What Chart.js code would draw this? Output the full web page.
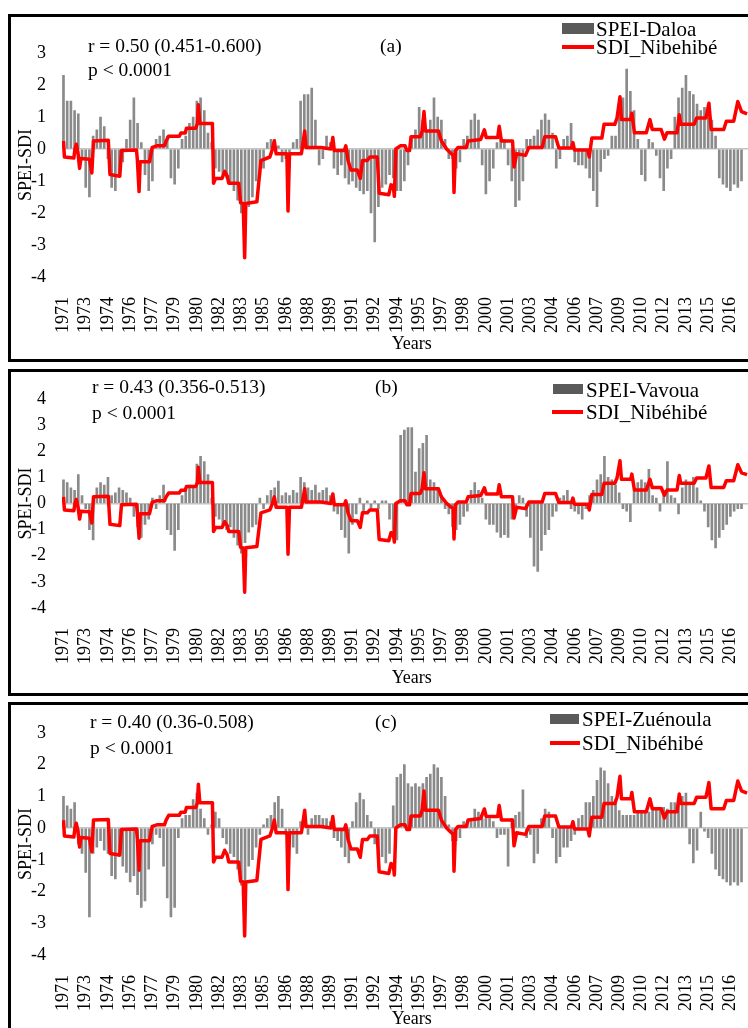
<!DOCTYPE html>
<html><head><meta charset="utf-8">
<script src="https://cdn.jsdelivr.net/npm/chart.js@4.4.1/dist/chart.umd.min.js"></script>
<style>
html,body{margin:0;padding:0;background:#fff;}
body{width:748px;height:1028px;overflow:hidden;position:relative;font-family:"Liberation Serif","Times New Roman",serif;}
.panel{position:absolute;left:8px;width:820px;border:3px solid #000;box-sizing:border-box;}
canvas{position:absolute;left:12px;}
.t{position:absolute;white-space:nowrap;color:#000;line-height:1;transform:translateY(-50%);z-index:5;}
.ann{font-size:19.5px;}
.leg{font-size:21px;}
.box{position:absolute;background:#5a5a5a;z-index:5;}
.red{position:absolute;background:#ff0000;height:4px;z-index:5;}
</style>
</head><body>
<div class="panel" style="top:14px;height:348px;"></div>
<div class="panel" style="top:369px;height:327px;"></div>
<div class="panel" style="top:702px;height:360px;"></div>

<canvas id="ca" width="760" height="341" style="top:18px;width:760px;height:341px;"></canvas>
<canvas id="cb" width="760" height="321" style="top:372px;width:760px;height:321px;"></canvas>
<canvas id="cc" width="760" height="328" style="top:706px;width:760px;height:328px;"></canvas>

<div class="t ann" style="left:88px;top:46px;">r = 0.50 (0.451-0.600)</div>
<div class="t ann" style="left:88px;top:70px;">p &lt; 0.0001</div>
<div class="t ann" style="left:380px;top:46px;">(a)</div>
<div class="box" style="left:562px;top:23px;width:32px;height:11px;"></div>
<div class="t leg" style="left:596px;top:29px;">SPEI-Daloa</div>
<div class="red" style="left:562px;top:45px;width:32px;"></div>
<div class="t leg" style="left:596px;top:47px;">SDI_Nibehibé</div>

<div class="t ann" style="left:92px;top:387px;">r = 0.43 (0.356-0.513)</div>
<div class="t ann" style="left:92px;top:413px;">p &lt; 0.0001</div>
<div class="t ann" style="left:375px;top:387px;">(b)</div>
<div class="box" style="left:553px;top:384px;width:30px;height:10px;"></div>
<div class="t leg" style="left:586px;top:390px;">SPEI-Vavoua</div>
<div class="red" style="left:552px;top:410px;width:31px;"></div>
<div class="t leg" style="left:586px;top:412px;">SDI_Nibéhibé</div>

<div class="t ann" style="left:90px;top:722px;">r = 0.40 (0.36-0.508)</div>
<div class="t ann" style="left:90px;top:748px;">p &lt; 0.0001</div>
<div class="t ann" style="left:375px;top:722px;">(c)</div>
<div class="box" style="left:550px;top:714px;width:29px;height:10px;"></div>
<div class="t leg" style="left:582px;top:719px;">SPEI-Zuénoula</div>
<div class="red" style="left:550px;top:741px;width:30px;"></div>
<div class="t leg" style="left:582px;top:743px;">SDI_Nibéhibé</div>

<script>
// Tick labels (one every 18 months = 6 quarters)
const yearLabels = ['1971','1973','1974','1976','1977','1979','1980','1982','1983','1985','1986','1988','1989','1991','1992','1994','1995','1997','1998','2000','2001','2003','2004','2006','2007','2009','2010','2012','2013','2015','2016'];

// SPEI values, one per quarter (index = quarter from start)
const speiDaloa = [
 2.3,1.5,1.5,1.2,1.1,-0.3,-1.2,-1.5,0.4,0.6,
 1.0,0.7,-0.3,-1.2,-1.3,-0.8,-0.4,0.3,0.9,1.6,
 0.8,0.2,-0.8,-1.3,-1.0,0.3,0.4,0.6,0.4,-0.9,
 -1.1,-0.6,0.3,0.4,0.8,1.0,1.5,1.6,1.2,0.5,
 0.2,-0.6,-0.7,-0.8,-0.9,-1.1,-1.3,-1.6,-2.0,-2.5,
 -1.8,-1.5,-1.0,-0.8,-0.6,0.2,0.3,0.3,0.1,-0.4,
 -0.3,-0.6,0.2,0.3,1.5,1.7,1.7,1.9,0.9,-0.5,
 -0.3,0.4,0.2,-0.6,-0.8,-0.5,-0.9,-1.1,-1.0,-1.2,
 -1.3,-1.4,-1.3,-2.0,-2.9,-1.8,-1.2,-1.1,-0.8,-0.9,
 -1.3,-1.3,-1.0,-0.5,0.4,0.6,1.3,0.9,0.6,0.9,
 1.6,1.0,0.9,0.3,-0.3,-0.3,-0.6,-0.4,0.3,0.4,
 0.9,1.1,0.9,-0.5,-1.4,-1.0,-0.6,0.2,0.3,0.3,
 -0.5,-1.0,-1.8,-1.6,-1.0,0.3,0.3,0.4,0.6,0.9,
 1.1,0.9,0.5,-0.6,-0.3,0.3,0.4,0.8,-0.4,-0.5,
 -0.5,-0.6,-0.9,-1.3,-1.8,-0.7,-0.3,-0.2,0.4,0.4,
 1.2,1.6,2.5,1.8,1.2,0.3,-0.8,-1.0,0.3,0.2,
 -0.2,-0.9,-1.3,-0.6,-0.3,1.0,1.6,1.9,2.3,1.8,
 1.7,1.4,1.2,1.3,1.0,0.9,0.4,-0.9,-1.1,-1.2,
 -1.3,-1.1,-1.2,-1.0
];
const speiVavoua = [
 0.9,0.8,0.6,0.5,1.1,0.3,-0.2,-1.0,-1.4,0.6,
 0.8,0.7,1.0,0.3,0.4,0.6,0.5,0.4,0.2,-0.5,
 -0.9,-1.3,-0.8,-0.6,0.2,-0.2,0.3,0.7,-1.0,-1.2,
 -1.8,-1.0,0.3,0.5,0.7,0.6,1.5,1.8,1.6,1.1,
 0.2,-0.5,-0.6,-0.8,-1.0,-0.9,-1.3,-1.6,-1.9,-1.5,
 -1.1,-0.9,-0.8,0.2,-0.2,0.3,0.5,0.6,0.85,0.3,
 0.4,0.3,0.5,0.4,1.0,0.8,0.6,0.5,0.7,0.4,
 0.5,0.6,0.3,-0.3,-0.4,-1.0,-1.3,-1.9,-0.8,-0.4,
 0.2,-0.3,0.1,-0.2,0.1,-0.2,0.1,0.1,-0.6,-1.2,
 -1.4,2.6,2.8,2.9,2.9,1.2,2.1,2.3,2.6,0.9,
 0.8,0.6,0.3,-0.2,-0.4,-0.9,-1.0,-0.8,-0.5,-0.3,
 0.5,0.8,0.5,0.2,-0.6,-0.8,-0.8,-1.1,-1.3,-1.2,
 -1.3,-0.6,-0.3,0.3,0.2,-0.5,-1.3,-2.4,-2.6,-1.8,
 -1.2,-1.0,-0.5,-0.3,0.2,0.3,0.5,-0.2,-0.3,-0.4,
 -0.6,-0.2,0.3,0.5,0.9,1.1,1.8,1.0,0.9,0.7,
 0.4,-0.2,-0.3,-0.7,0.5,0.8,0.9,0.8,1.3,0.3,
 0.2,-0.3,0.5,1.6,0.3,0.2,-0.4,0.6,0.9,0.7,
 1.0,0.6,0.1,-0.3,-0.9,-1.4,-1.7,-1.3,-1.0,-0.8,
 -0.5,-0.3,-0.2,-0.2
];
const speiZuenoula = [
 1.0,0.7,0.6,0.8,-0.5,-0.8,-1.4,-2.8,-0.8,-0.6,
 -0.4,-0.7,-0.8,-1.5,-1.6,-0.9,-1.2,-1.4,-1.7,-1.5,
 -2.1,-2.5,-2.3,-1.3,-0.5,-0.2,-0.3,-1.2,-2.2,-2.8,
 -2.5,-0.3,0.3,0.4,0.4,0.9,1.1,0.6,0.3,-0.2,
 0.1,0.5,0.3,-0.3,-0.5,-0.8,-0.9,-1.3,-1.8,-2.0,
 -1.2,-1.0,-0.6,-0.2,0.1,0.3,0.4,0.8,1.0,0.6,
 -0.2,-0.3,-0.6,-0.8,0.2,0.2,-0.2,0.3,0.4,0.4,
 0.3,0.3,0.2,-0.3,-0.4,-0.6,-0.9,-1.1,0.2,0.8,
 1.1,0.9,0.4,0.2,-0.5,-0.8,-0.9,-1.1,-0.8,0.7,
 1.6,1.7,2.0,1.4,1.3,1.4,1.3,1.4,1.6,1.7,
 2.0,1.9,1.6,1.0,0.1,-0.4,-0.4,-0.3,0.2,0.2,
 0.3,0.6,0.5,0.3,0.3,0.3,0.2,-0.3,-0.2,-0.2,
 -1.2,0.3,0.4,0.5,1.2,-0.3,-0.2,-1.1,-0.8,0.3,
 0.6,0.5,-0.3,-1.1,-0.9,-0.6,-0.6,-0.4,-0.2,0.3,
 0.4,0.8,0.8,1.0,1.5,1.9,1.8,1.4,1.0,0.9,
 0.55,0.4,0.4,0.4,0.4,0.5,0.5,0.5,0.5,0.65,
 0.65,0.6,0.65,0.6,0.8,0.8,0.9,1.0,1.1,-0.5,
 -1.1,-0.7,0.5,-0.1,-0.3,-0.8,-1.3,-1.5,-1.6,-1.7,
 -1.8,-1.7,-1.8,-1.7
];

// SDI Nibéhibé: positions (in quarters) and values of the line's vertices
const sdiQ = [0,0.25,2.8,3.1,3.45,3.9,4.35,4.7,7.0,7.65,8.1,12.1,12.55,15.2,15.65,19.7,19.95,20.4,20.7,23.2,
 23.95,25.2,27.25,27.7,28.4,31.25,31.7,32.85,33.2,35.7,36.15,36.4,36.8,40.2,40.5,41.05,42.8,43.5,44.2,44.6,
 47.3,47.8,48.5,48.9,49.2,52.2,52.6,53.3,55.7,56.4,56.9,57.4,60.3,60.6,61.0,64.2,64.6,65.1,65.45,69.5,
 72.2,72.7,73.1,75.8,76.2,76.8,77.6,79.3,80.1,80.7,82.0,82.7,84.7,85.2,87.8,88.4,89.0,89.3,89.7,90.9,
 92.2,92.7,93.4,93.8,96.3,96.8,97.3,97.7,101.2,102.0,103.4,104.7,105.2,105.4,105.8,106.5,108.7,109.2,112.6,113.6,
 114.1,117.2,117.6,118.2,121.2,121.6,122.3,124.7,125.6,129.2,129.9,132.8,133.7,137.1,137.5,137.9,141.5,141.9,142.6,145.3,
 145.9,148.8,149.4,150.2,150.6,153.1,153.4,154.1,157.3,158.3,158.9,161.3,162.2,162.9,165.6,166.2,166.6,170.2,170.9,173.4,
 174.2,174.8,178.2,178.9,180.9,182.0,183.0,184.5];
const sdiV = [0.25,-0.25,-0.28,0.0,0.15,-0.1,-0.6,-0.3,-0.32,-0.75,0.25,0.27,-0.8,-0.85,-0.05,-0.03,-0.35,-1.33,-0.4,-0.4,
 0.05,0.1,0.1,0.25,0.4,0.4,0.5,0.5,0.65,0.65,0.8,1.38,0.8,0.8,-1.07,-0.92,-0.92,-0.7,-0.85,-1.07,
 -1.07,-1.68,-1.7,-3.4,-1.7,-1.65,-1.17,-0.36,-0.25,0.0,0.25,-0.15,-0.15,-1.94,-0.15,-0.15,0.15,0.56,0.05,0.05,
 0.0,0.36,-0.05,-0.05,0.1,-0.36,-0.66,-0.66,-0.92,-0.36,-0.36,-0.25,-0.25,-1.38,-1.43,-1.12,-1.15,-1.48,0.0,0.1,
 0.1,-0.05,-0.05,0.38,0.38,0.56,1.17,0.56,0.56,0.25,0.0,-0.15,-0.2,-1.36,-0.05,0.05,0.05,0.25,0.3,0.6,
 0.36,0.36,0.71,0.25,0.25,-0.56,-0.15,-0.2,0.05,0.05,0.38,0.38,0.03,0.03,0.2,-0.03,-0.03,-0.25,0.34,0.34,
 0.77,0.77,0.97,1.63,0.92,0.92,1.12,0.51,0.51,0.92,0.61,0.61,0.31,0.51,0.51,1.07,0.77,0.77,0.97,0.97,
 1.43,0.61,0.61,0.87,0.87,1.48,1.17,1.1];

Chart.defaults.font.family = '"Liberation Serif","Times New Roman",serif';
Chart.defaults.color = '#000';

function makeChart(id, spei, speiLabel, sdiLabel, yMax, padTop, xH) {
  new Chart(document.getElementById(id), {
    type: 'bar',
    data: {
      datasets: [
        { type: 'line', label: sdiLabel,
          data: sdiQ.map((q, i) => ({ x: q, y: sdiV[i] })),
          borderColor: '#ff0000', borderWidth: 3.5, pointRadius: 0, tension: 0,
          borderJoinStyle: 'round', order: 0 },
        { type: 'bar', label: speiLabel,
          data: spei.map((v, i) => ({ x: i, y: v })),
          backgroundColor: '#8a8a8a', barThickness: 2, order: 1 }
      ]
    },
    options: {
      responsive: false, animation: false,
      layout: { padding: { top: padTop, left: 0, right: 0, bottom: 0 } },
      plugins: { legend: { display: false }, tooltip: { enabled: false } },
      scales: {
        x: {
          type: 'linear', min: -0.4, max: 188.4, offset: false, bounds: 'data',
          grid: { display: false, drawTicks: false }, border: { display: false },
          afterBuildTicks: s => { s.ticks = yearLabels.map((l, i) => ({ value: i * 6 })); },
          ticks: { autoSkip: false, minRotation: 90, maxRotation: 90, padding: 20,
                   font: { size: 18 }, color: '#000',
                   callback: (v, i) => yearLabels[i] },
          title: { display: true, text: 'Years', font: { size: 18 }, color: '#000', padding: { top: 4, bottom: 4 } },
          afterFit: s => { s.height = xH; }
        },
        y: {
          min: -4, max: yMax,
          grid: { drawTicks: false, lineWidth: 1.5,
                  color: c => (c.tick && c.tick.value === 0) ? '#c4c4c4' : 'rgba(0,0,0,0)' },
          border: { display: false },
          ticks: { stepSize: 1, padding: 16, font: { size: 18 }, color: '#000' },
          title: { display: true, text: 'SPEI-SDI', font: { size: 18 }, color: '#000', padding: { top: 3, bottom: 0 } },
          afterFit: s => { s.width = 50; }
        }
      }
    }
  });
}

makeChart('ca', speiDaloa, 'SPEI-Daloa', 'SDI_Nibehibé', 3, 35, 82);
makeChart('cb', speiVavoua, 'SPEI-Vavoua', 'SDI_Nibéhibé', 4, 15, 85);
makeChart('cc', speiZuenoula, 'SPEI-Zuénoula', 'SDI_Nibéhibé', 3, 22.5, 79);
</script>
</body></html>
